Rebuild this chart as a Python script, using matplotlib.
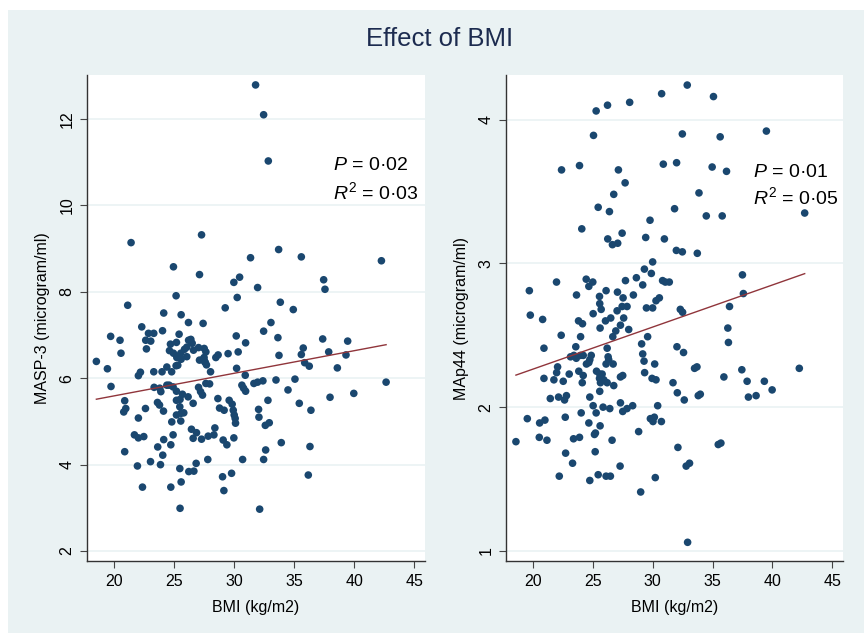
import numpy as np
import matplotlib
matplotlib.use("Agg")
import matplotlib.pyplot as plt
from matplotlib.patches import Rectangle

plt.rcParams['font.family'] = ['Liberation Sans', 'DejaVu Sans']
plt.rcParams['mathtext.fontset'] = 'custom'
plt.rcParams['mathtext.rm'] = 'Liberation Sans'
plt.rcParams['mathtext.it'] = 'Liberation Sans:italic'

# MASP-3 panel (BMI, MASP-3)
bmi_masp3 = [31.79, 32.46, 32.85, 21.42, 27.29, 24.95, 27.12, 31.37, 33.71, 35.60,
             42.27, 37.46, 37.57, 29.98, 30.46, 31.96, 25.17, 30.26, 21.14, 29.26,
             33.85, 34.93, 24.14, 25.59, 26.20, 27.42, 33.07, 32.46, 22.31, 22.87,
             23.31, 24.04, 25.42, 19.72, 20.50, 22.64, 23.06, 30.18, 30.96, 33.65,
             37.38, 39.46, 20.58, 22.70, 35.76, 35.60, 37.88, 33.74, 29.50, 30.34,
             39.32, 18.53, 19.45, 19.75, 22.03, 22.20, 20.89, 20.98, 20.81, 22.03,
             22.62, 21.70, 22.03, 22.48, 20.89, 21.95, 22.37, 23.04, 23.87, 23.64,
             24.06, 24.14, 24.73, 24.73, 24.92, 24.81, 23.31, 24.00, 24.40, 24.80,
             23.34, 23.81, 23.90, 23.62, 23.79, 24.12, 24.59, 24.92, 25.20, 25.20,
             25.31, 25.48, 25.59, 25.56, 25.81, 25.70, 26.17, 26.59, 25.48, 25.59,
             25.50, 26.23, 26.65, 26.84, 26.45, 26.59, 26.87, 27.29, 27.84, 28.32,
             28.40, 27.81, 28.65, 28.79, 29.17, 29.09, 29.40, 29.04, 29.15, 29.79,
             29.98, 29.59, 29.84, 29.93, 30.01, 30.09, 30.12, 27.04, 27.21, 27.37,
             27.65, 27.96, 28.04, 27.56, 27.50, 27.70, 28.48, 28.67, 30.21, 30.93,
             30.65, 30.79, 30.96, 30.71, 31.65, 31.96, 32.40, 32.04, 32.07, 32.60,
             32.93, 32.82, 32.63, 32.46, 32.13, 33.49, 34.49, 35.07, 35.43, 33.93,
             35.88, 36.26, 36.40, 36.32, 36.18, 38.60, 37.99, 39.97, 42.66, 26.21,
             26.40, 26.51, 26.06, 26.62, 25.87, 25.56, 24.95, 24.62, 25.23, 25.59,
             26.06, 27.04, 27.51, 27.65, 27.46, 27.12, 27.59, 24.70, 25.20, 25.17,
             24.40, 25.50, 25.20]
masp3 = [12.79, 12.10, 11.03, 9.14, 9.32, 8.58, 8.40, 8.79, 8.98, 8.81,
         8.72, 8.28, 8.06, 8.22, 8.34, 8.10, 7.91, 7.87, 7.69, 7.63,
         7.76, 7.59, 7.51, 7.47, 7.29, 7.27, 7.29, 7.09, 7.19, 7.04,
         7.04, 7.10, 7.02, 6.97, 6.88, 6.88, 6.86, 6.98, 6.82, 6.94,
         6.91, 6.86, 6.58, 6.68, 6.70, 6.55, 6.61, 6.53, 6.57, 6.61,
         6.54, 6.39, 6.22, 5.81, 6.06, 6.14, 5.48, 5.30, 5.22, 5.08,
         5.30, 4.69, 4.62, 4.65, 4.30, 3.97, 3.48, 4.07, 4.00, 4.41,
         4.22, 4.58, 3.48, 4.46, 4.69, 4.99, 6.15, 6.15, 6.26, 6.15,
         5.79, 5.77, 5.69, 5.44, 5.38, 5.24, 5.84, 5.80, 5.70, 5.49,
         6.30, 5.34, 5.19, 5.01, 5.20, 5.63, 5.57, 5.42, 3.91, 3.60,
         2.99, 3.84, 3.85, 4.03, 4.82, 4.61, 4.74, 4.59, 4.66, 4.69,
         4.85, 4.12, 5.53, 5.31, 5.26, 4.57, 4.46, 3.72, 3.40, 3.80,
         4.62, 5.49, 5.40, 5.26, 5.15, 5.07, 4.96, 5.79, 5.69, 5.61,
         5.88, 5.87, 6.15, 6.38, 6.48, 6.31, 6.48, 6.54, 6.23, 6.07,
         5.84, 5.77, 5.70, 4.12, 5.88, 5.91, 5.94, 5.28, 5.10, 4.91,
         4.97, 5.49, 4.34, 4.12, 2.97, 5.96, 5.73, 5.98, 5.42, 4.51,
         6.36, 6.28, 5.26, 4.42, 3.76, 6.24, 5.56, 5.65, 5.91, 6.88,
         6.90, 6.81, 6.72, 6.65, 6.67, 6.58, 6.58, 6.64, 6.48, 6.44,
         6.50, 6.71, 6.69, 6.61, 6.45, 6.42, 6.37, 6.79, 6.83, 6.29,
         5.84, 5.51, 5.15]

# MAp44 panel (BMI, MAp44)
bmi_map44 = [32.89, 30.75, 35.08, 28.08, 26.23, 25.28, 25.06, 32.48, 35.64, 39.50,
             22.39, 23.89, 27.14, 27.70, 30.89, 32.00, 34.97, 36.17, 42.70, 26.75,
             25.45, 26.39, 33.87, 31.83, 34.48, 35.81, 24.08, 29.78, 26.25, 26.64,
             27.08, 27.45, 29.42, 30.98, 31.98, 32.48, 33.73, 30.00, 29.31, 29.89,
             28.64, 27.73, 29.17, 30.83, 31.06, 31.39, 24.45, 25.00, 24.67, 21.97,
             19.70, 23.64, 25.56, 26.11, 27.06, 27.53, 28.39, 37.50, 37.58, 19.78,
             20.81, 25.58, 25.70, 25.03, 27.03, 27.45, 27.86, 29.48, 30.00, 30.28,
             30.56, 23.81, 24.14, 26.06, 26.50, 27.58, 27.31, 26.92, 26.67, 28.00,
             25.61, 22.36, 23.98, 32.31, 32.50, 36.42, 36.28, 36.33, 29.58, 29.08,
             32.03, 32.58, 20.92, 23.58, 26.20, 29.17, 23.14, 23.42, 23.62, 23.98,
             24.20, 24.87, 24.75, 24.47, 24.67, 22.06, 21.98, 26.28, 26.33, 26.70,
             26.11, 29.28, 30.17, 23.83, 24.20, 23.03, 25.31, 25.58, 25.78, 20.92,
             21.75, 22.53, 24.12, 25.56, 25.64, 25.92, 26.20, 26.75, 27.31, 27.50,
             29.33, 29.95, 30.28, 31.70, 32.06, 32.64, 33.50, 33.70, 33.81, 33.98,
             35.95, 37.45, 37.89, 38.00, 38.64, 39.33, 39.98, 42.25, 21.45, 22.14,
             22.64, 22.80, 24.75, 25.58, 25.03, 25.28, 25.86, 26.42, 27.31, 27.50,
             27.86, 28.33, 30.42, 19.53, 20.56, 21.00, 22.70, 24.03, 24.67, 25.61,
             29.81, 30.03, 30.14, 30.73, 20.53, 21.17, 23.39, 23.89, 25.14, 25.22,
             26.61, 28.83, 18.58, 22.73, 25.20, 23.31, 22.20, 24.75, 25.45, 26.11,
             26.47, 27.28, 29.00, 30.22, 32.11, 32.80, 33.08, 35.48, 35.70, 32.92]
map44 = [4.24, 4.18, 4.16, 4.12, 4.10, 4.06, 3.89, 3.90, 3.88, 3.92,
         3.65, 3.68, 3.65, 3.56, 3.69, 3.70, 3.67, 3.64, 3.35, 3.48,
         3.39, 3.36, 3.49, 3.38, 3.33, 3.33, 3.24, 3.30, 3.17, 3.13,
         3.14, 3.21, 3.18, 3.17, 3.09, 3.08, 3.07, 3.01, 2.96, 2.93,
         2.90, 2.88, 2.85, 2.88, 2.87, 2.87, 2.89, 2.87, 2.84, 2.87,
         2.81, 2.78, 2.77, 2.81, 2.80, 2.76, 2.78, 2.92, 2.79, 2.64,
         2.61, 2.72, 2.68, 2.65, 2.67, 2.70, 2.70, 2.69, 2.69, 2.74,
         2.76, 2.60, 2.58, 2.60, 2.62, 2.62, 2.57, 2.53, 2.49, 2.54,
         2.55, 2.50, 2.49, 2.68, 2.66, 2.70, 2.55, 2.45, 2.49, 2.44,
         2.42, 2.38, 2.41, 2.42, 2.41, 2.37, 2.35, 2.36, 2.34, 2.36,
         2.36, 2.36, 2.33, 2.30, 2.31, 2.28, 2.24, 2.35, 2.33, 2.30,
         2.30, 2.32, 2.30, 2.25, 2.22, 2.23, 2.25, 2.23, 2.23, 2.20,
         2.19, 2.18, 2.17, 2.20, 2.17, 2.19, 2.17, 2.15, 2.21, 2.22,
         2.24, 2.20, 2.19, 2.17, 2.10, 2.05, 2.27, 2.28, 2.08, 2.09,
         2.21, 2.26, 2.18, 2.07, 2.08, 2.18, 2.12, 2.27, 2.06, 2.07,
         2.05, 2.08, 2.07, 2.11, 2.01, 1.96, 2.00, 1.99, 2.03, 1.97,
         1.99, 2.01, 2.01, 1.92, 1.89, 1.91, 1.93, 1.96, 1.89, 1.87,
         1.92, 1.90, 1.93, 1.90, 1.79, 1.77, 1.78, 1.79, 1.81, 1.82,
         1.77, 1.83, 1.76, 1.68, 1.69, 1.61, 1.52, 1.49, 1.53, 1.52,
         1.52, 1.59, 1.41, 1.51, 1.72, 1.59, 1.61, 1.74, 1.75, 1.06]

xticks = [20, 25, 30, 35, 40, 45]
panels = [
    dict(x=bmi_masp3, y=masp3, ylabel='MASP-3 (microgram/ml)', yticks=[2, 4, 6, 8, 10, 12],
         ylim=(1.77, 13.02), p='0·02', r2='0·03', pos=(87, 425), txt=(0.728, 0.813, 0.759)),
    dict(x=bmi_map44, y=map44, ylabel='MAp44 (microgram/ml)', yticks=[1, 2, 3, 4],
         ylim=(0.93, 4.31), p='0·01', r2='0·05', pos=(506, 843), txt=(0.733, 0.800, 0.749)),
]

W, H = 864, 633
bg = '#EAF2F3'
navy = '#1A476F'
maroon = '#90353B'

fig = plt.figure(figsize=(W / 100, H / 100), dpi=100)
fig.patch.set_facecolor('white')
fig.patches.append(Rectangle((8 / W, 0), 1, (H - 10) / H, transform=fig.transFigure,
                             facecolor=bg, edgecolor='none', zorder=-10))

fig.text(440 / W, 1 - 39 / H, 'Effect of BMI', ha='center', va='center',
         fontsize=18.5, color='#1C2B4F')

top, bottom = 75, 561
for pnl in panels:
    x0, x1 = pnl['pos']
    ax = fig.add_axes([x0 / W, 1 - bottom / H, (x1 - x0) / W, (bottom - top) / H])
    ax.set_facecolor('white')
    x = np.array(pnl['x'])
    y = np.array(pnl['y'])
    ax.scatter(x, y, s=30, color=navy, edgecolors='none', zorder=3)

    # linear fit
    slope, icpt = np.polyfit(x, y, 1)
    xf = np.array([x.min(), x.max()])
    ax.plot(xf, icpt + slope * xf, color=maroon, lw=1, zorder=4)

    ax.set_xlim(17.75, 45.9)
    ax.set_ylim(*pnl['ylim'])
    ax.set_xticks(xticks)
    ax.set_yticks(pnl['yticks'])
    ax.grid(axis='y', color=bg, lw=1.2, zorder=0)
    ax.set_axisbelow(True)
    for s in ['top', 'right']:
        ax.spines[s].set_visible(False)
    for s in ['left', 'bottom']:
        ax.spines[s].set_color('#333333')
        ax.spines[s].set_linewidth(1)
    ax.tick_params(axis='both', labelsize=11.5, length=5, width=0.8, color='#444444', pad=4)
    for lbl in ax.get_yticklabels():
        lbl.set_rotation(90)
        lbl.set_va('center')
    ax.set_xlabel('BMI (kg/m2)', fontsize=11.5, labelpad=8)
    ax.set_ylabel(pnl['ylabel'], fontsize=11.5, labelpad=7)

    tx, ty1, ty2 = pnl['txt']
    ax.text(tx, ty1, '$P$ = ' + pnl['p'], transform=ax.transAxes, fontsize=14,
            ha='left', va='center')
    ax.text(tx, ty2, '$R^2$ = ' + pnl['r2'], transform=ax.transAxes, fontsize=14,
            ha='left', va='center')

fig.savefig('out.png', dpi=100)
